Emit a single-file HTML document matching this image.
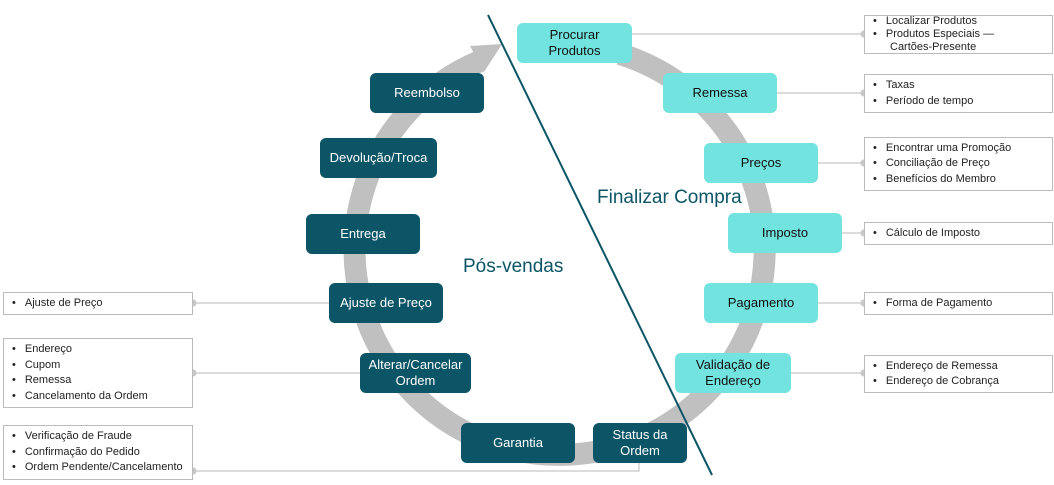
<!DOCTYPE html>
<html><head><style>
body{margin:0;width:1054px;height:485px;background:#fff;position:relative;overflow:hidden;font-family:"Liberation Sans",sans-serif}
.n{position:absolute;border-radius:6px;display:flex;align-items:center;justify-content:center;text-align:center;font-size:13px;line-height:16px}
.l{background:#72e3de;color:#111}
.d{background:#0b5566;color:#fff}
.b{position:absolute;border:1px solid #bbb;background:#fff;font-size:11px;line-height:15.5px;color:#222;box-sizing:border-box;padding:0 0 0 8px;display:flex;flex-direction:column;justify-content:center}
.b div:before{content:"•";margin-right:9px}
.t{position:absolute;color:#0b5566;font-size:19px}
</style></head><body>
<svg width="1054" height="485" style="position:absolute;left:0;top:0">
<path d="M 620 54 A 205 205 0 1 1 480 61" fill="none" stroke="#c0c0c0" stroke-width="22"/>
<polygon points="470,46 502,44 484,72" fill="#c0c0c0"/>
<g stroke="#c8c8c8" stroke-width="1.2" fill="#c8c8c8">
<line x1="632" y1="34" x2="864" y2="34"/><circle cx="864" cy="34" r="3"/>
<line x1="777" y1="93" x2="864" y2="93"/><circle cx="864" cy="93" r="3"/>
<line x1="818" y1="163" x2="864" y2="163"/><circle cx="864" cy="163" r="3"/>
<line x1="842" y1="233" x2="864" y2="233"/><circle cx="864" cy="233" r="3"/>
<line x1="818" y1="303" x2="864" y2="303"/><circle cx="864" cy="303" r="3"/>
<line x1="791" y1="373" x2="864" y2="373"/><circle cx="864" cy="373" r="3"/>
<line x1="193" y1="303" x2="329" y2="303"/><circle cx="193" cy="303" r="3"/>
<line x1="193" y1="373" x2="360" y2="373"/><circle cx="193" cy="373" r="3"/>
<polyline points="193,471 639,471 639,463" fill="none"/><circle cx="193" cy="471" r="3"/>
</g>
<line x1="488" y1="15" x2="712" y2="475" stroke="#0b5566" stroke-width="2"/>
</svg>
<div class="n l" style="left:517px;top:23px;width:115px;height:40px">Procurar<br>Produtos</div>
<div class="n l" style="left:663px;top:73px;width:114px;height:40px">Remessa</div>
<div class="n l" style="left:704px;top:143px;width:114px;height:40px">Preços</div>
<div class="n l" style="left:728px;top:213px;width:114px;height:40px">Imposto</div>
<div class="n l" style="left:704px;top:283px;width:114px;height:40px">Pagamento</div>
<div class="n l" style="left:675px;top:353px;width:116px;height:40px">Validação de<br>Endereço</div>
<div class="n d" style="left:370px;top:73px;width:114px;height:40px">Reembolso</div>
<div class="n d" style="left:320px;top:138px;width:117px;height:40px">Devolução/Troca</div>
<div class="n d" style="left:306px;top:214px;width:114px;height:40px">Entrega</div>
<div class="n d" style="left:329px;top:283px;width:114px;height:40px">Ajuste de Preço</div>
<div class="n d" style="left:360px;top:353px;width:111px;height:40px">Alterar/Cancelar<br>Ordem</div>
<div class="n d" style="left:461px;top:423px;width:114px;height:40px">Garantia</div>
<div class="n d" style="left:593px;top:423px;width:94px;height:40px">Status da<br>Ordem</div>
<div class="b" style="left:864px;top:15px;width:189px;height:39px;line-height:13px"><div>Localizar Produtos</div><div>Produtos Especiais —<br><span style="margin-left:17px">Cartões-Presente</span></div></div>
<div class="b" style="left:864px;top:74px;width:189px;height:39px"><div>Taxas</div><div>Período de tempo</div></div>
<div class="b" style="left:864px;top:137px;width:189px;height:54px"><div>Encontrar uma Promoção</div><div>Conciliação de Preço</div><div>Benefícios do Membro</div></div>
<div class="b" style="left:864px;top:222px;width:189px;height:23px"><div>Cálculo de Imposto</div></div>
<div class="b" style="left:864px;top:292px;width:189px;height:23px"><div>Forma de Pagamento</div></div>
<div class="b" style="left:864px;top:355px;width:189px;height:38px"><div>Endereço de Remessa</div><div>Endereço de Cobrança</div></div>
<div class="b" style="left:3px;top:292px;width:190px;height:23px"><div>Ajuste de Preço</div></div>
<div class="b" style="left:3px;top:338px;width:190px;height:70px"><div>Endereço</div><div>Cupom</div><div>Remessa</div><div>Cancelamento da Ordem</div></div>
<div class="b" style="left:3px;top:425px;width:190px;height:55px"><div>Verificação de Fraude</div><div>Confirmação do Pedido</div><div>Ordem Pendente/Cancelamento</div></div>
<div class="t" style="left:597px;top:187px">Finalizar Compra</div>
<div class="t" style="left:463px;top:256px">Pós-vendas</div>
</body></html>
